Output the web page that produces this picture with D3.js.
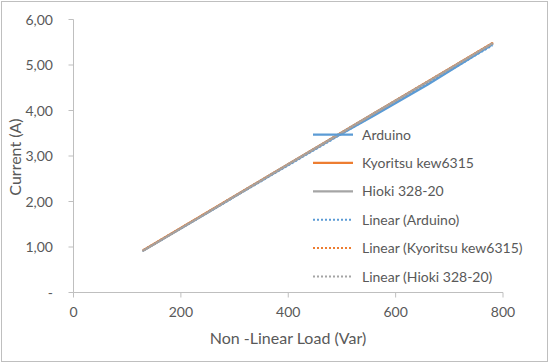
<!DOCTYPE html>
<html><head><meta charset="utf-8">
<script src="https://cdn.jsdelivr.net/npm/d3@7"></script>
<style>body{margin:0;background:#fff}svg text{font-family:Lato,"Open Sans",sans-serif;fill:#595959}</style>
</head><body><svg id="c" width="550" height="364"></svg>
<script>
const loads = [130, 250, 370, 480, 560, 660, 780];
const arduino = [0.92, 1.76, 2.60, 3.36, 3.89, 4.57, 5.45];
const kyoritsu = [0.93, 1.77, 2.61, 3.38, 3.94, 4.64, 5.48];
const hioki = [0.92, 1.76, 2.61, 3.38, 3.94, 4.63, 5.47];
const seriesNames = ["Arduino", "Kyoritsu kew6315", "Hioki 328-20"];
const colors = ["#5B9BD5", "#ED7D31", "#A5A5A5"];
const xTicks = [0, 200, 400, 600, 800];
const yTicks = [0, 1, 2, 3, 4, 5, 6];
const yTickLabels = ["-", "1,00", "2,00", "3,00", "4,00", "5,00", "6,00"];

const svg = d3.select("#c");
svg.append("rect").attr("x",1.5).attr("y",1.5).attr("width",546).attr("height",360)
  .attr("fill","#fff").attr("stroke","#BFBFBF").attr("stroke-width",1);

const x = d3.scaleLinear().domain([0,800]).range([73.5,503]);
const y = d3.scaleLinear().domain([0,6]).range([292.5,19.5]);

// axes
svg.append("line").attr("x1",x(0)).attr("x2",x(800)).attr("y1",y(0)).attr("y2",y(0)).attr("stroke","#BFBFBF");
svg.append("line").attr("x1",x(0)).attr("x2",x(0)).attr("y1",y(0)).attr("y2",y(6)).attr("stroke","#BFBFBF");
xTicks.forEach(t=>{
  svg.append("line").attr("x1",x(t)).attr("x2",x(t)).attr("y1",y(0)).attr("y2",y(0)+5).attr("stroke","#BFBFBF");
  svg.append("text").attr("x",x(t)).attr("y",y(0)+24).attr("text-anchor","middle").attr("font-size",14).text(t);
});
yTicks.forEach((t,i)=>{
  svg.append("line").attr("x1",x(0)-5).attr("x2",x(0)).attr("y1",y(t)).attr("y2",y(t)).attr("stroke","#BFBFBF");
  svg.append("text").attr("x",53).attr("y",y(t)+5).attr("text-anchor","end").attr("font-size",14).text(yTickLabels[i]);
});
svg.append("text").attr("x",288).attr("y",344).attr("text-anchor","middle").attr("font-size",16).text("Non -Linear Load (Var)");
svg.append("text").attr("transform","translate(21,157) rotate(-90)").attr("text-anchor","middle").attr("font-size",16).text("Current (A)");

const all = [arduino, kyoritsu, hioki];
const line = d3.line().x(d=>x(d[0])).y(d=>y(d[1]));
all.forEach((vals,i)=>{
  svg.append("path").datum(loads.map((l,j)=>[l,vals[j]])).attr("d",line)
    .attr("fill","none").attr("stroke",colors[i]).attr("stroke-width",2.25).attr("stroke-linecap","round");
});
// linear trendlines (least squares from the data)
all.forEach((vals,i)=>{
  const mx=d3.mean(loads), my=d3.mean(vals);
  const b=d3.sum(loads.map((l,j)=>(l-mx)*(vals[j]-my)))/d3.sum(loads.map(l=>(l-mx)**2));
  const a=my-b*mx;
  const ext=d3.extent(loads);
  svg.append("path").datum(ext.map(l=>[l,a+b*l])).attr("d",line)
    .attr("fill","none").attr("stroke",colors[i]).attr("stroke-width",2).attr("stroke-dasharray","2,2");
});

// legend
const legendItems = seriesNames.map((n,i)=>({name:n,color:colors[i],dash:null}))
  .concat(seriesNames.map((n,i)=>({name:"Linear ("+n+")",color:colors[i],dash:"2,2"})));
legendItems.forEach((d,i)=>{
  const yy = 134.5 + i*28.4;
  svg.append("line").attr("x1",313).attr("x2",353).attr("y1",yy).attr("y2",yy)
    .attr("stroke",d.color).attr("stroke-width",d.dash?2:2.25).attr("stroke-dasharray",d.dash);
  svg.append("text").attr("x",362).attr("y",yy+5).attr("font-size",14).text(d.name);
});
</script></body></html>
